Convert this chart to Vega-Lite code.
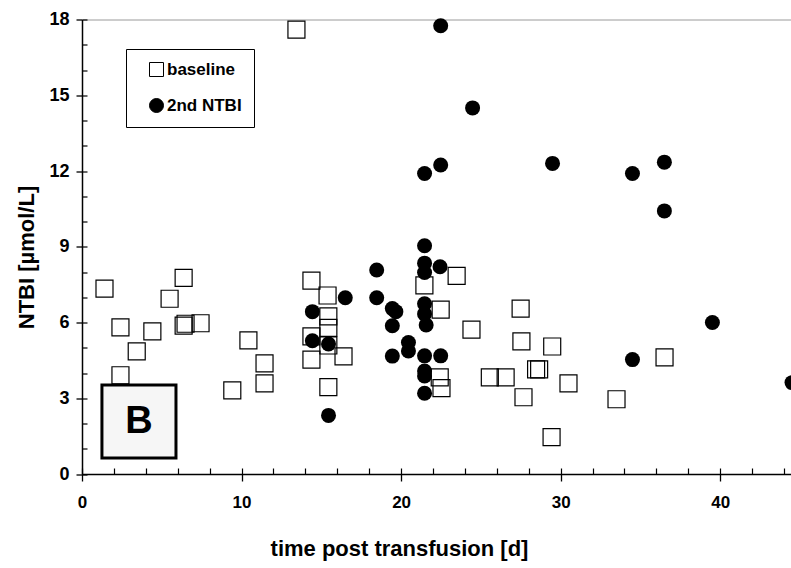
{
  "$schema": "https://vega.github.io/schema/vega-lite/v6.json",
  "width": 718,
  "height": 454.5,
  "autosize": {"type": "none"},
  "padding": {"left": 82, "top": 19.5, "right": 0, "bottom": 94},
  "background": "white",
  "config": {
    "font": "Liberation Sans",
    "view": {"stroke": "#9a9a9a", "strokeWidth": 1},
    "axis": {"grid": false, "labelColor": "black", "titleColor": "black", "tickColor": "black", "domainColor": "black"},
    "legend": {
      "orient": "none", "legendX": 44, "legendY": 29.5,
      "strokeColor": "black", "fillColor": "white", "padding": 12,
      "symbolOffset": 10, "labelFontSize": 17, "labelFontWeight": "bold", "labelColor": "black",
      "rowPadding": 17, "symbolSize": 196, "symbolStrokeColor": "black", "symbolStrokeWidth": 1,
      "symbolOpacity": 1, "labelOffset": 2, "cornerRadius": 0
    }
  },
  "datasets": {
    "pts": [
      {"series": "baseline", "t": 1.41, "ntbi": 7.34},
      {"series": "baseline", "t": 2.41, "ntbi": 5.81},
      {"series": "baseline", "t": 2.41, "ntbi": 3.91},
      {"series": "baseline", "t": 3.43, "ntbi": 4.86},
      {"series": "baseline", "t": 4.41, "ntbi": 5.65},
      {"series": "baseline", "t": 5.49, "ntbi": 6.94},
      {"series": "baseline", "t": 6.37, "ntbi": 7.77},
      {"series": "baseline", "t": 6.37, "ntbi": 5.88},
      {"series": "baseline", "t": 6.49, "ntbi": 5.95},
      {"series": "baseline", "t": 7.43, "ntbi": 5.97},
      {"series": "baseline", "t": 9.42, "ntbi": 3.31},
      {"series": "baseline", "t": 10.43, "ntbi": 5.29},
      {"series": "baseline", "t": 11.44, "ntbi": 4.38},
      {"series": "baseline", "t": 11.44, "ntbi": 3.59},
      {"series": "baseline", "t": 13.44, "ntbi": 17.6},
      {"series": "baseline", "t": 14.38, "ntbi": 7.66},
      {"series": "baseline", "t": 14.38, "ntbi": 5.45},
      {"series": "baseline", "t": 14.38, "ntbi": 4.53},
      {"series": "baseline", "t": 15.39, "ntbi": 7.07},
      {"series": "baseline", "t": 15.44, "ntbi": 6.24},
      {"series": "baseline", "t": 15.44, "ntbi": 5.79},
      {"series": "baseline", "t": 15.44, "ntbi": 5.09},
      {"series": "baseline", "t": 15.44, "ntbi": 3.44},
      {"series": "baseline", "t": 16.39, "ntbi": 4.66},
      {"series": "baseline", "t": 21.46, "ntbi": 7.47},
      {"series": "baseline", "t": 22.48, "ntbi": 6.51},
      {"series": "baseline", "t": 22.42, "ntbi": 3.83},
      {"series": "baseline", "t": 22.53, "ntbi": 3.4},
      {"series": "baseline", "t": 23.48, "ntbi": 7.85},
      {"series": "baseline", "t": 24.41, "ntbi": 5.72},
      {"series": "baseline", "t": 25.56, "ntbi": 3.83},
      {"series": "baseline", "t": 26.55, "ntbi": 3.83},
      {"series": "baseline", "t": 27.49, "ntbi": 6.55},
      {"series": "baseline", "t": 27.54, "ntbi": 5.25},
      {"series": "baseline", "t": 27.67, "ntbi": 3.04},
      {"series": "baseline", "t": 28.46, "ntbi": 4.14},
      {"series": "baseline", "t": 28.65, "ntbi": 4.14},
      {"series": "baseline", "t": 29.47, "ntbi": 5.05},
      {"series": "baseline", "t": 29.43, "ntbi": 1.46},
      {"series": "baseline", "t": 30.49, "ntbi": 3.59},
      {"series": "baseline", "t": 33.5, "ntbi": 2.96},
      {"series": "baseline", "t": 36.51, "ntbi": 4.62},
      {"series": "2nd NTBI", "t": 14.44, "ntbi": 6.43},
      {"series": "2nd NTBI", "t": 14.44, "ntbi": 5.28},
      {"series": "2nd NTBI", "t": 15.45, "ntbi": 5.15},
      {"series": "2nd NTBI", "t": 15.45, "ntbi": 2.32},
      {"series": "2nd NTBI", "t": 16.5, "ntbi": 6.98},
      {"series": "2nd NTBI", "t": 18.47, "ntbi": 8.08},
      {"series": "2nd NTBI", "t": 18.47, "ntbi": 6.98},
      {"series": "2nd NTBI", "t": 19.45, "ntbi": 6.55},
      {"series": "2nd NTBI", "t": 19.67, "ntbi": 6.43},
      {"series": "2nd NTBI", "t": 19.45, "ntbi": 5.87},
      {"series": "2nd NTBI", "t": 19.45, "ntbi": 4.67},
      {"series": "2nd NTBI", "t": 20.46, "ntbi": 5.21},
      {"series": "2nd NTBI", "t": 20.46, "ntbi": 4.87},
      {"series": "2nd NTBI", "t": 21.47, "ntbi": 11.9},
      {"series": "2nd NTBI", "t": 21.47, "ntbi": 9.04},
      {"series": "2nd NTBI", "t": 21.47, "ntbi": 8.35},
      {"series": "2nd NTBI", "t": 21.47, "ntbi": 7.98},
      {"series": "2nd NTBI", "t": 21.47, "ntbi": 6.74},
      {"series": "2nd NTBI", "t": 21.47, "ntbi": 6.34},
      {"series": "2nd NTBI", "t": 21.57, "ntbi": 5.9},
      {"series": "2nd NTBI", "t": 21.47, "ntbi": 4.68},
      {"series": "2nd NTBI", "t": 21.47, "ntbi": 4.08},
      {"series": "2nd NTBI", "t": 21.47, "ntbi": 3.88},
      {"series": "2nd NTBI", "t": 21.47, "ntbi": 3.2},
      {"series": "2nd NTBI", "t": 22.48, "ntbi": 17.75},
      {"series": "2nd NTBI", "t": 22.48, "ntbi": 12.24},
      {"series": "2nd NTBI", "t": 22.44, "ntbi": 8.21},
      {"series": "2nd NTBI", "t": 22.48, "ntbi": 4.68},
      {"series": "2nd NTBI", "t": 24.48, "ntbi": 14.5},
      {"series": "2nd NTBI", "t": 29.49, "ntbi": 12.3},
      {"series": "2nd NTBI", "t": 34.5, "ntbi": 11.9},
      {"series": "2nd NTBI", "t": 34.5, "ntbi": 4.53},
      {"series": "2nd NTBI", "t": 36.5, "ntbi": 12.35},
      {"series": "2nd NTBI", "t": 36.5, "ntbi": 10.42},
      {"series": "2nd NTBI", "t": 39.51, "ntbi": 6.0},
      {"series": "2nd NTBI", "t": 44.5, "ntbi": 3.62}
    ],
    "box": [{"x": 1.25, "x2": 5.89, "y": 0.63, "y2": 3.52, "cx": 3.57, "cy": 2.07, "label": "B"}]
  },
  "resolve": {"axis": {"x": "independent", "y": "independent"}},
  "layer": [
    {
      "data": {"name": "pts"},
      "transform": [{"filter": "datum.series === 'baseline'"}],
      "mark": {"type": "point", "filled": true, "size": 289, "strokeWidth": 1.2, "opacity": 1},
      "encoding": {
        "x": {"field": "t", "type": "quantitative", "scale": {"domain": [0, 45], "nice": false, "zero": false},
          "axis": {"orient": "bottom", "values": [0, 2, 4, 6, 8, 10, 12, 14, 16, 18, 20, 22, 24, 26, 28, 30, 32, 34, 36, 38, 40, 42, 44],
            "tickSize": 6, "offset": -6, "tickWidth": 1.2, "labels": false, "domain": false, "title": null}},
        "y": {"field": "ntbi", "type": "quantitative", "scale": {"domain": [0, 18], "nice": false, "zero": false},
          "axis": {"orient": "left", "values": [0, 1, 2, 3, 4, 5, 6, 7, 8, 9, 10, 11, 12, 13, 14, 15, 16, 17, 18],
            "tickSize": 5, "offset": -5, "tickWidth": 1.2, "labels": false, "domain": false, "title": null}},
        "shape": {"field": "series", "type": "nominal", "title": null,
          "scale": {"domain": ["baseline", "2nd NTBI"], "range": ["square", "circle"]}},
        "fill": {"field": "series", "type": "nominal", "title": null,
          "scale": {"domain": ["baseline", "2nd NTBI"], "range": ["transparent", "black"]}},
        "stroke": {"field": "series", "type": "nominal", "title": null,
          "scale": {"domain": ["baseline", "2nd NTBI"], "range": ["black", "black"]}}
      }
    },
    {
      "data": {"name": "box"},
      "mark": {"type": "rect", "fill": "#f6f6f6", "stroke": "black", "strokeWidth": 3},
      "encoding": {
        "x": {"field": "x", "type": "quantitative",
          "axis": {"orient": "bottom", "values": [0, 10, 20, 30, 40], "tickSize": 7, "tickWidth": 1.3, "domainWidth": 1.5,
            "labelFontSize": 17, "labelFontWeight": "bold", "labelPadding": 13, "labelFlush": false,
            "title": "time post transfusion [d]", "titleFontSize": 22, "titleFontWeight": "bold",
            "titleX": 317, "titleY": 74, "titleBaseline": "middle", "titleAlign": "center", "titleAnchor": null}},
        "x2": {"field": "x2"},
        "y": {"field": "y", "type": "quantitative",
          "axis": {"orient": "left", "values": [0, 3, 6, 9, 12, 15, 18], "tickSize": 6, "tickWidth": 1.3, "domainWidth": 1.5,
            "labelFontSize": 18, "labelFontWeight": "bold", "labelPadding": 7,
            "title": "NTBI [µmol/L]", "titleFontSize": 22, "titleFontWeight": "bold",
            "titleX": -56, "titleY": 237.5, "titleAngle": 270, "titleBaseline": "middle", "titleAlign": "center", "titleAnchor": null}},
        "y2": {"field": "y2"}
      }
    },
    {
      "data": {"name": "box"},
      "mark": {"type": "text", "fontSize": 38, "fontWeight": "bold", "color": "black", "baseline": "middle", "align": "center"},
      "encoding": {
        "x": {"field": "cx", "type": "quantitative", "axis": null},
        "y": {"field": "cy", "type": "quantitative", "axis": null},
        "text": {"field": "label"}
      }
    },
    {
      "data": {"name": "pts"},
      "transform": [{"filter": "datum.series === '2nd NTBI'"}],
      "mark": {"type": "point", "filled": true, "size": 225, "strokeWidth": 0, "opacity": 1},
      "encoding": {
        "x": {"field": "t", "type": "quantitative", "axis": null},
        "y": {"field": "ntbi", "type": "quantitative", "axis": null},
        "shape": {"field": "series", "type": "nominal", "title": null},
        "fill": {"field": "series", "type": "nominal", "title": null},
        "stroke": {"field": "series", "type": "nominal", "title": null}
      }
    }
  ]
}
